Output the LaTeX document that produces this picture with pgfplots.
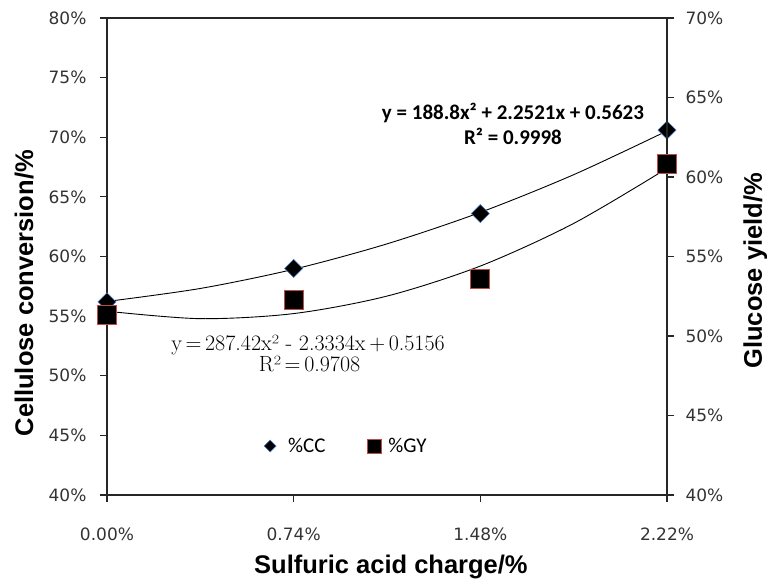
\documentclass[border=0pt]{standalone}
\usepackage{pgfplots}
\pgfplotsset{compat=1.18}
\usepackage{fontspec}
\newfontfamily\tickfont{DejaVu Sans}
\newfontfamily\labfont{Liberation Sans}
\newfontfamily\calfont{Carlito}
\definecolor{ccedge}{HTML}{4A7EBB}
\definecolor{gyedge}{HTML}{BE4B48}
\begin{document}
\begin{tikzpicture}
\useasboundingbox (-107pt,-84pt) rectangle (661pt,495pt);
\begin{axis}[
 scale only axis, width=560pt, height=477pt,
 xmin=0, xmax=2.22, ymin=40, ymax=80,
 clip=false,
 axis line style={black!85, line width=1.1pt},
 xtick={0,0.74,1.48,2.22}, xticklabels={0.00\%,0.74\%,1.48\%,2.22\%},
 ytick={40,45,...,80}, yticklabels={40\%,45\%,50\%,55\%,60\%,65\%,70\%,75\%,80\%},
 xtick pos=bottom, ytick pos=left, tick align=outside,
 major tick length=7pt, tick style={black!85, line width=1.1pt},
 ticklabel style={font=\tickfont\fontsize{17}{20}\selectfont, text=black!80},
 xticklabel style={yshift=-22pt},
 yticklabel style={xshift=-10pt},
 xlabel={Sulfuric acid charge/\%},
 ylabel={Cellulose conversion/\%},
 every axis x label/.style={at={(axis description cs:0.507,-0.1656)}, anchor=base, font=\labfont\bfseries\fontsize{25.5}{28}\selectfont},
 every axis y label/.style={at={(axis description cs:-0.132,0.423)}, anchor=base, rotate=90, font=\labfont\bfseries\fontsize{25.5}{28}\selectfont},
]
\addplot[black, line width=0.9pt, smooth, forget plot] coordinates {(0,56.23) (0.37,57.32) (0.74,58.93) (1.11,61.06) (1.48,63.70) (1.85,66.86) (2.22,70.53)};
\addplot[only marks, mark=square*, mark size=6.4pt, mark options={rotate=45, fill=black, draw=ccedge, line width=0.6pt}, forget plot] coordinates {(0,56.2) (0.74,59.0) (1.48,63.6) (2.22,70.6)};
\node[font=\calfont\bfseries\fontsize{21}{24}\selectfont, anchor=base] at (axis cs:1.6095,71.53) {y = 188.8x² + 2.2521x + 0.5623};
\node[font=\calfont\bfseries\fontsize{21}{24}\selectfont, anchor=base] at (axis cs:1.6095,69.43) {R² = 0.9998};
\node[font=\fontsize{22}{24}\selectfont, anchor=base] at (axis cs:0.797,52.10) {y\,=\,287.42x² - 2.3334x\,+\,0.5156};
\node[font=\fontsize{22}{24}\selectfont, anchor=base] at (axis cs:0.803,50.34) {R²\,=\,0.9708};
\end{axis}
\begin{axis}[
 scale only axis, width=560pt, height=477pt,
 xmin=0, xmax=2.22, ymin=40, ymax=70,
 clip=false,
 axis x line=none, axis y line*=right,
 axis line style={-, black!85, line width=1.1pt},
 ytick={40,45,...,70}, yticklabels={40\%,45\%,50\%,55\%,60\%,65\%,70\%},
 tick align=outside,
 major tick length=7pt, tick style={black!85, line width=1.1pt},
 ticklabel style={font=\tickfont\fontsize{17}{20}\selectfont, text=black!80},
 yticklabel style={xshift=8pt},
 ylabel={Glucose yield/\%},
 every axis y label/.style={at={(axis description cs:1.1696,0.470)}, anchor=base, rotate=90, font=\labfont\bfseries\fontsize{25.5}{28}\selectfont},
 legend style={draw=none, fill=none, font=\calfont\fontsize{21}{23}\selectfont, legend columns=2, at={(axis description cs:0.275,0.1027)}, anchor=west, /tikz/every even column/.append style={column sep=40pt}},
]
\addlegendimage{only marks, mark=square*, mark size=4.2pt, mark options={rotate=45, fill=black, draw=ccedge, line width=0.6pt}}
\addlegendentry{\hspace{10pt}\%CC}
\addlegendimage{only marks, mark=square*, mark size=7pt, mark options={fill=black, draw=gyedge, line width=0.8pt}}
\addlegendentry{\hspace{5pt}\%GY}
\addplot[black, line width=0.9pt, smooth, forget plot] coordinates {(0,51.56) (0.37,51.09) (0.74,51.41) (1.11,52.51) (1.48,54.40) (1.85,57.08) (2.22,60.54)};
\addplot[only marks, mark=square*, mark size=9.5pt, mark options={fill=black, draw=gyedge, line width=0.8pt}, forget plot] coordinates {(0,51.3) (0.74,52.3) (1.48,53.6) (2.22,60.8)};
\end{axis}
\end{tikzpicture}
\end{document}
